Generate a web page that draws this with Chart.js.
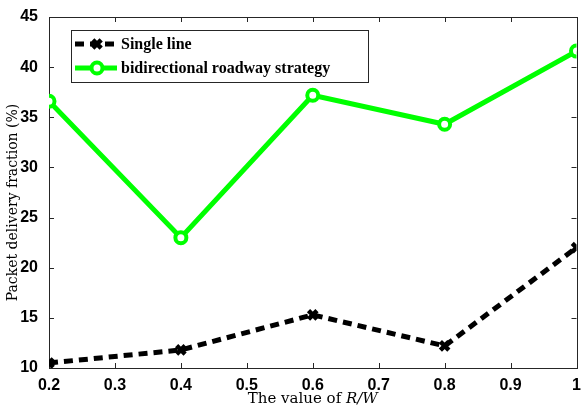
<!DOCTYPE html>
<html>
<head>
<meta charset="utf-8">
<script src="https://cdn.jsdelivr.net/npm/chart.js@4/dist/chart.umd.min.js"></script>
<style>
  html, body { margin: 0; padding: 0; background: #fff; }
</style>
</head>
<body>
<canvas id="chart" width="587" height="409"></canvas>
<script>
const ratios = [0.2, 0.4, 0.6, 0.8, 1.0];
const singleLine = [10.5, 11.8, 15.3, 12.2, 22.0];
const bidirectional = [36.6, 23.0, 37.2, 34.3, 41.6];
const xTicks = [0.2, 0.3, 0.4, 0.5, 0.6, 0.7, 0.8, 0.9, 1];
const yTicks = [10, 15, 20, 25, 30, 35, 40, 45];
const seriesNames = ['Single line', 'bidirectional roadway strategy'];

const tickFont = { family: 'Liberation Sans', size: 16, weight: 'bold' };
const xTitleFont = '15px "DejaVu Serif"';
const yTitleFont = '14px "DejaVu Serif"';

// frame + inward ticks on all four sides, like matlab
const framePlugin = {
  id: 'frame',
  beforeDatasetsDraw(chart) {
    const { ctx, chartArea: a, scales } = chart;
    ctx.save();
    ctx.strokeStyle = '#262626';
    ctx.lineWidth = 1;
    ctx.beginPath();
    xTicks.forEach(v => {
      const x = Math.round(scales.x.getPixelForValue(v)) + 0.5;
      ctx.moveTo(x, a.bottom); ctx.lineTo(x, a.bottom - 5);
      ctx.moveTo(x, a.top); ctx.lineTo(x, a.top + 5);
    });
    yTicks.forEach(v => {
      const y = Math.round(scales.y.getPixelForValue(v)) + 0.5;
      ctx.moveTo(a.left, y); ctx.lineTo(a.left + 5, y);
      ctx.moveTo(a.right, y); ctx.lineTo(a.right - 5, y);
    });
    ctx.stroke();
    ctx.strokeRect(Math.round(a.left) + 0.5, Math.round(a.top) + 0.5,
      Math.round(a.right - a.left), Math.round(a.bottom - a.top));
    ctx.restore();
  },
  afterDraw(chart) {
    const { ctx, chartArea: a } = chart;
    ctx.save();
    ctx.fillStyle = '#000';

    // x title: "The value of R/W"
    const plain = 'The value of ';
    ctx.font = xTitleFont;
    const w1 = ctx.measureText(plain).width;
    ctx.font = 'italic ' + xTitleFont;
    const w2 = ctx.measureText('R/W').width;
    const cx = (a.left + a.right) / 2;
    const x0 = cx - (w1 + w2) / 2;
    ctx.textBaseline = 'alphabetic';
    ctx.textAlign = 'left';
    ctx.font = xTitleFont;
    ctx.fillText(plain, x0, 403);
    ctx.font = 'italic ' + xTitleFont;
    ctx.fillText('R/W', x0 + w1, 403);

    // y title
    ctx.translate(17, (a.top + a.bottom) / 2 + 10);
    ctx.rotate(-Math.PI / 2);
    ctx.textAlign = 'center';
    ctx.font = yTitleFont;
    ctx.fillText('Packet delivery fraction (%)', 0, 0);
    ctx.restore();

    // legend box
    ctx.save();
    const bx = 71, by = 30, bw = 297, bh = 52;
    ctx.fillStyle = '#fff';
    ctx.fillRect(bx, by, bw, bh);
    ctx.strokeStyle = '#262626';
    ctx.lineWidth = 1;
    ctx.strokeRect(bx + 0.5, by + 0.5, bw, bh);
    const rows = [44, 68];
    chart.data.datasets.forEach((ds, i) => {
      const y = rows[i];
      ctx.save();
      ctx.strokeStyle = ds.borderColor;
      ctx.lineWidth = ds.borderWidth;
      ctx.setLineDash(ds.borderDash || []);
      ctx.beginPath();
      ctx.moveTo(75, y); ctx.lineTo(117, y);
      ctx.stroke();
      ctx.restore();
      ctx.save();
      ctx.fillStyle = ds.pointBackgroundColor;
      ctx.strokeStyle = ds.borderColor;
      ctx.lineWidth = ds.pointBorderWidth;
      ctx.beginPath();
      if (ds.pointStyle === 'circle') {
        ctx.arc(97, y, ds.pointRadius, 0, Math.PI * 2);
        ctx.fill(); ctx.stroke();
      } else {
        const r = ds.pointRadius * 0.7;
        ctx.moveTo(97 - r, y - r); ctx.lineTo(97 + r, y + r);
        ctx.moveTo(97 + r, y - r); ctx.lineTo(97 - r, y + r);
        ctx.stroke();
      }
      ctx.restore();
      ctx.fillStyle = '#000';
      ctx.font = 'bold 16px "Liberation Serif"';
      ctx.textAlign = 'left';
      ctx.textBaseline = 'middle';
      ctx.fillText(seriesNames[i], 121, y + 1);
    });
    ctx.restore();
  }
};

new Chart(document.getElementById('chart'), {
  type: 'line',
  data: {
    datasets: [
      {
        label: seriesNames[0],
        data: ratios.map((r, i) => ({ x: r, y: singleLine[i] })),
        borderColor: '#000',
        borderWidth: 5,
        borderDash: [9, 6],
        pointStyle: 'crossRot',
        pointRadius: 6,
        pointBorderWidth: 4.5,
        pointBackgroundColor: '#000',
        pointBorderColor: '#000',
        tension: 0
      },
      {
        label: seriesNames[1],
        data: ratios.map((r, i) => ({ x: r, y: bidirectional[i] })),
        borderColor: '#00ff00',
        borderWidth: 5,
        pointStyle: 'circle',
        pointRadius: 5.5,
        pointBorderWidth: 4,
        pointBackgroundColor: '#fff',
        pointBorderColor: '#00ff00',
        tension: 0
      }
    ]
  },
  options: {
    responsive: false,
    devicePixelRatio: 1,
    animation: false,
    layout: { padding: { top: 17, right: 5, left: 0, bottom: 0 } },
    plugins: { legend: { display: false }, tooltip: { enabled: false } },
    scales: {
      x: {
        type: 'linear',
        min: 0.2,
        max: 1,
        grid: { display: false },
        border: { display: false },
        afterBuildTicks: s => { s.ticks = xTicks.map(v => ({ value: v })); },
        afterFit: s => { s.height = 41; },
        ticks: {
          font: tickFont,
          color: '#000',
          padding: 0,
          maxRotation: 0,
          autoSkip: false,
          callback: v => String(Math.round(v * 10) / 10)
        }
      },
      y: {
        min: 10,
        max: 45,
        grid: { display: false },
        border: { display: false },
        afterBuildTicks: s => { s.ticks = yTicks.map(v => ({ value: v })); },
        afterFit: s => { s.width = 49; },
        ticks: {
          font: tickFont,
          color: '#000',
          padding: 3
        }
      }
    }
  },
  plugins: [framePlugin]
});
</script>
</body>
</html>
